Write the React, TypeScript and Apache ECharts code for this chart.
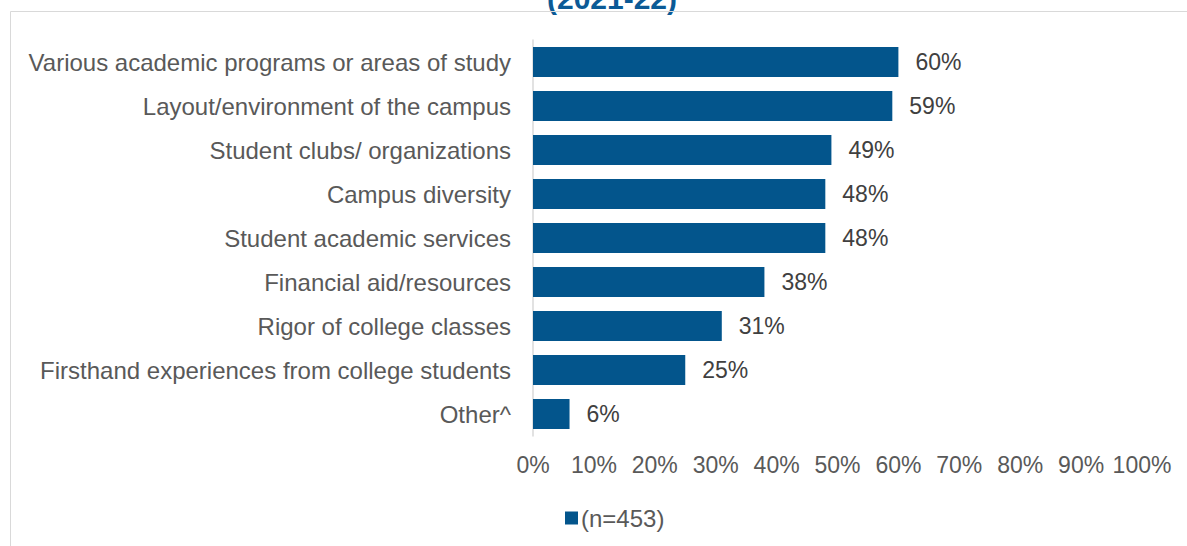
import React, { useEffect, useRef } from "react";
import * as echarts from "echarts";

const categories = [
  "Various academic programs or areas of study",
  "Layout/environment of the campus",
  "Student clubs/ organizations",
  "Campus diversity",
  "Student academic services",
  "Financial aid/resources",
  "Rigor of college classes",
  "Firsthand experiences from college students",
  "Other^",
];
const values = [60, 59, 49, 48, 48, 38, 31, 25, 6];
const seriesName = "(n=453)";
const titleText = "(2021-22)";

const FONT = 'Arial, "Liberation Sans", sans-serif';

export default function App() {
  const ref = useRef<HTMLDivElement>(null);
  useEffect(() => {
    if (!ref.current) return;
    const chart = echarts.init(ref.current, undefined, { renderer: "svg" });
    chart.setOption({
      animation: false,
      backgroundColor: "#ffffff",
      textStyle: { fontFamily: FONT },
      graphic: [
        {
          type: "text",
          x: 612,
          y: 13,
          style: {
            text: titleText,
            fill: "#0b5a96",
            font: `bold 30px ${FONT}`,
            align: "center",
            verticalAlign: "bottom",
          },
        },
        {
          type: "rect",
          shape: { x: 10.5, y: 11.5, width: 1300, height: 700 },
          style: { fill: "none", stroke: "#d9d9d9", lineWidth: 1 },
          silent: true,
        },
      ],
      legend: {
        data: [seriesName],
        left: 560,
        top: 501,
        icon: "rect",
        itemWidth: 13,
        itemHeight: 13,
        itemGap: 5,
        textStyle: { fontSize: 24, color: "#595959", fontFamily: FONT, padding: [0, 0, 0, -2] },
      },
      grid: { left: 533, right: 45, top: 40, bottom: 110, containLabel: false },
      xAxis: {
        type: "value",
        min: 0,
        max: 100,
        interval: 10,
        axisLine: { show: false },
        axisTick: { show: false },
        splitLine: { show: false },
        axisLabel: {
          formatter: "{value}%",
          fontSize: 23,
          color: "#595959",
          fontFamily: FONT,
          margin: 17,
        },
      },
      yAxis: {
        type: "category",
        data: categories,
        inverse: true,
        axisLine: { show: true, lineStyle: { color: "#d9d9d9", width: 1.5 } },
        axisTick: { show: false },
        axisLabel: { fontSize: 24, color: "#595959", fontFamily: FONT, margin: 22 },
      },
      series: [
        {
          name: seriesName,
          type: "bar",
          data: values,
          barCategoryGap: "32%",
          itemStyle: { color: "#03558c" },
          label: {
            show: true,
            position: "right",
            distance: 17,
            formatter: "{c}%",
            fontSize: 23,
            color: "#404040",
            fontFamily: FONT,
          },
        },
      ],
    });
    return () => chart.dispose();
  }, []);
  return (
    <div
      ref={ref}
      style={{ position: "fixed", left: 0, top: 0, width: 1187, height: 546 }}
    />
  );
}
